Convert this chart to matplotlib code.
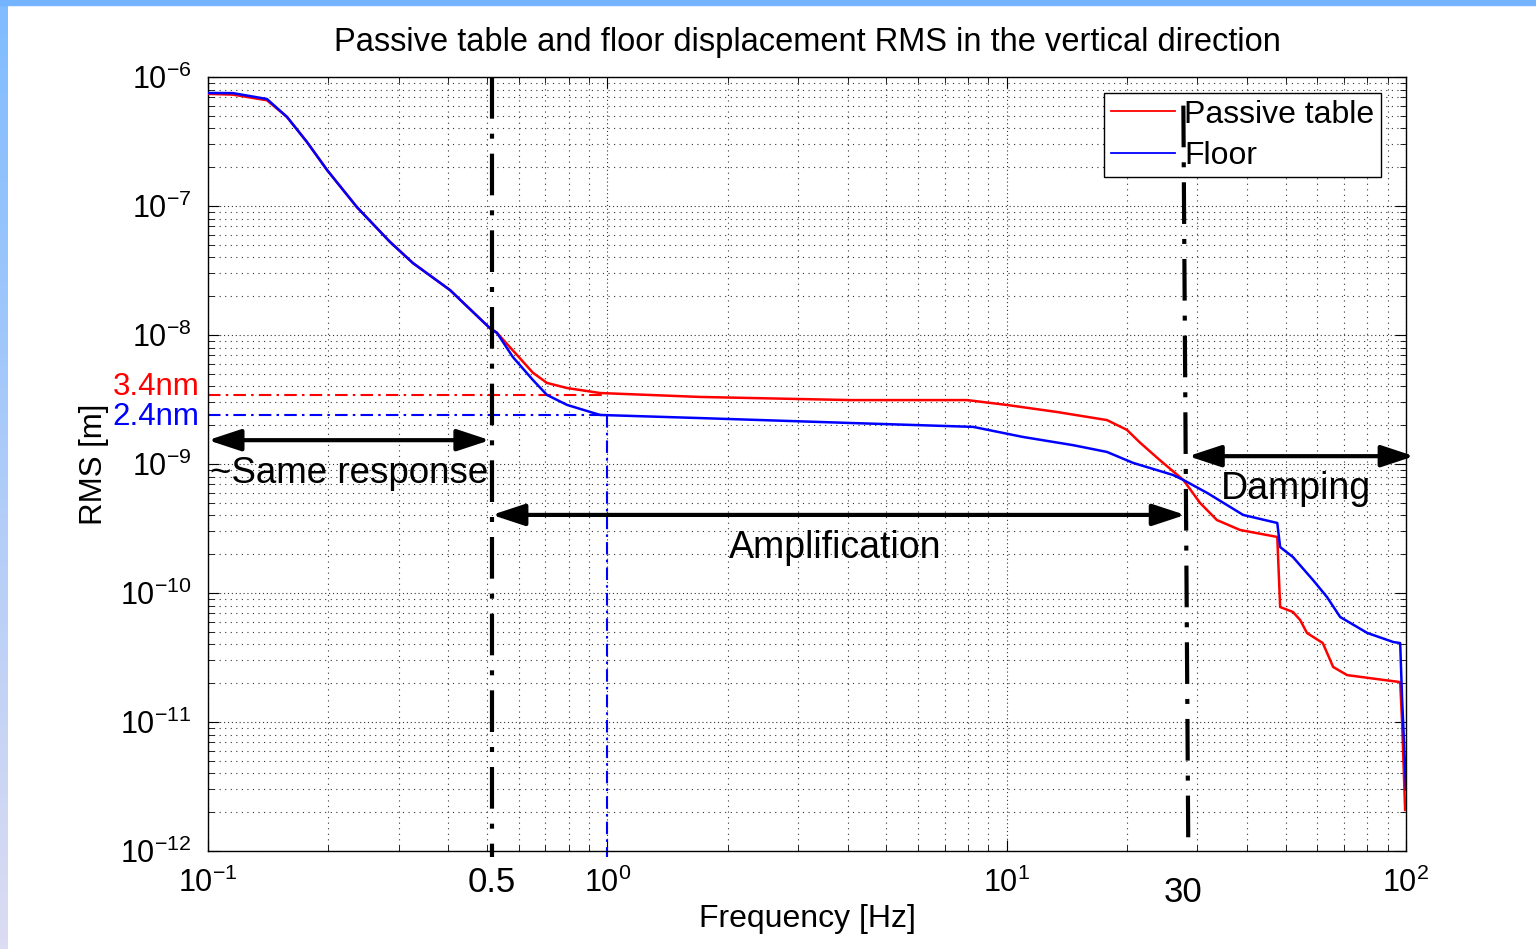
import numpy as np
import matplotlib
matplotlib.use("Agg")
import matplotlib.pyplot as plt
from matplotlib.patches import Rectangle
from matplotlib.colors import LinearSegmentedColormap

plt.rcParams['font.family'] = ['Liberation Sans', 'DejaVu Sans']
plt.rcParams['mathtext.fontset'] = 'custom'
plt.rcParams['mathtext.rm'] = 'Liberation Sans'

# floor (blue) cumulative RMS
floor_f = [0.1, 0.1155, 0.1405, 0.1577, 0.177, 0.1987, 0.236, 0.2857, 0.326,
           0.4037, 0.508, 0.529, 0.580, 0.651, 0.706, 0.793, 0.959, 1.707,
           4.05, 8.24, 10.99, 14.66, 17.83, 20.73, 26.1, 27.7, 31.8, 39.1,
           47.6, 48.4, 52.1, 58.5, 63.4, 68.4, 80.0, 92.9, 96.7, 97.8, 99.5, 100]
floor_v = [7.52e-7, 7.5e-7, 6.75e-7, 4.9e-7, 3.13e-7, 1.9e-7, 9.8e-8, 5.26e-8, 3.61e-8,
           2.23e-8, 1.13e-8, 1.04e-8, 6.75e-9, 4.48e-9, 3.43e-9, 2.87e-9, 2.40e-9, 2.27e-9,
           2.08e-9, 1.94e-9, 1.62e-9, 1.40e-9, 1.24e-9, 1.02e-9, 8.22e-10, 7.52e-10, 5.96e-10, 4.03e-10,
           3.49e-10, 2.27e-10, 1.90e-10, 1.26e-10, 9.31e-11, 6.52e-11, 4.90e-11, 4.17e-11, 4.09e-11,
           1.48e-11, 4.48e-12, 3.0e-12]

# passive table (red)
table_f = [0.1, 0.1155, 0.1405, 0.1577, 0.177, 0.1987, 0.236, 0.2857, 0.326,
           0.4037, 0.508, 0.529, 0.594, 0.651, 0.706, 0.793, 0.959, 1.707, 4.05, 7.96,
           10.0, 13.37, 17.83, 20.0, 21.6, 24.2, 27.7, 30.5, 33.6, 38.4, 47.6,
           48.4, 52.1, 54.3, 56.5, 61.9, 65.7, 71.2, 87.7, 96.7, 97.8, 99.5]
table_v = [7.4e-7, 7.3e-7, 6.6e-7, 4.9e-7, 3.13e-7, 1.9e-7, 9.8e-8, 5.26e-8, 3.61e-8,
           2.23e-8, 1.13e-8, 1.04e-8, 7.0e-9, 5.1e-9, 4.25e-9, 3.88e-9, 3.55e-9, 3.31e-9, 3.13e-9, 3.13e-9,
           2.87e-9, 2.53e-9, 2.19e-9, 1.84e-9, 1.46e-9, 1.07e-9, 7.52e-10, 4.99e-10, 3.68e-10, 3.08e-10, 2.72e-10,
           7.78e-11, 7.13e-11, 6.18e-11, 4.90e-11, 4.09e-11, 2.67e-11, 2.31e-11, 2.12e-11, 2.04e-11,
           9.8e-12, 2.08e-12]

table_rms = 3.4e-9
floor_rms = 2.4e-9
f_low = 0.514
f_high = 27.7
f_high_bottom = 28.5

xticks = [0.1, 1, 10, 100]
xtick_labels = [r'$\mathregular{10^{-1}}$', r'$\mathregular{10^{0}}$',
                r'$\mathregular{10^{1}}$', r'$\mathregular{10^{2}}$']
yticks = [1e-12, 1e-11, 1e-10, 1e-9, 1e-8, 1e-7, 1e-6]
ytick_labels = [r'$\mathregular{10^{%d}}$' % e for e in range(-12, -5)]

fig = plt.figure(figsize=(15.36, 9.49), dpi=100)

# slide frame
fig.patches.append(Rectangle((0, 1 - 5 / 949), 1, 5 / 949, transform=fig.transFigure,
                             color='#74b3ff', zorder=0))
bg = fig.add_axes([0, 0, 8 / 1536, 1 - 5 / 949])
grad = np.linspace(0, 1, 256)[:, None]
cm = LinearSegmentedColormap.from_list('frame', ['#dcdcf2', '#80bcff'])
bg.imshow(grad, aspect='auto', cmap=cm, origin='lower')
bg.axis('off')

ax = fig.add_axes([208 / 1536, 1 - 851 / 949, 1198 / 1536, 774 / 949])
ax.set_xscale('log')
ax.set_yscale('log')
ax.set_xlim(0.1, 100)
ax.set_ylim(1e-12, 1e-6)

ax.plot(table_f, table_v, color='#ff0000', lw=1.8, label='Passive table', zorder=3)
ax.plot(floor_f, floor_v, color='#0000ff', lw=1.8, label='Floor', zorder=3)

ax.grid(True, which='major', color='#333333', lw=0.8, linestyle=(0, (1, 2.5)))
ax.grid(True, which='minor', color='#333333', lw=0.8, linestyle=(0, (1, 4)))
ax.set_xticks(xticks)
ax.set_xticklabels(xtick_labels)
ax.set_yticks(yticks)
ax.set_yticklabels(ytick_labels)
ax.tick_params(which='both', direction='in', top=True, right=True, labelsize=22)
ax.tick_params(axis='x', which='major', pad=12)
ax.tick_params(axis='y', which='major', pad=12)
ax.tick_params(which='major', length=8)
ax.tick_params(which='minor', length=4)
for s in ax.spines.values():
    s.set_linewidth(1.0)

# RMS reference lines
dd = (0, (6, 2.5, 1.2, 2.5))
ax.plot([0.1, 1.0], [table_rms, table_rms], color='#ff0000', lw=1.5, linestyle=dd, zorder=2)
ax.plot([0.1, 1.0], [floor_rms, floor_rms], color='#0000ff', lw=1.5, linestyle=dd, zorder=2)
ax.plot([1.0, 1.0], [floor_rms, 9e-13], color='#0000ff', lw=1.5, linestyle=dd, zorder=2,
        clip_on=False)
ax.text(-0.007, 3.95e-9, '3.4nm', color='#ff0000', fontsize=22.5, ha='right', va='center',
        transform=ax.get_yaxis_transform())
ax.text(-0.007, 2.3e-9, '2.4nm', color='#0000ff', fontsize=22.5, ha='right', va='center',
        transform=ax.get_yaxis_transform())

# region boundaries
bd = (0, (10, 3.6, 1.2, 3.6))
ax.plot([f_low, f_low], [1e-6, 9e-13], color='k', lw=3, linestyle=bd, zorder=4, clip_on=False)
ax.plot([f_high, f_high_bottom], [6e-7, 1e-12], color='k', lw=3, linestyle=bd, zorder=6,
        clip_on=False)

arrow = dict(arrowstyle='<|-|>,head_length=1.0,head_width=0.33', lw=3, color='k',
             mutation_scale=20, shrinkA=0, shrinkB=0)
ax.annotate('', xy=(0.1, 1.53e-9), xytext=(0.508, 1.53e-9), arrowprops=arrow,
            annotation_clip=False)
ax.annotate('', xy=(f_low, 4.03e-10), xytext=(28.0, 4.03e-10), arrowprops=arrow,
            annotation_clip=False)
ax.annotate('', xy=(28.5, 1.15e-9), xytext=(104.8, 1.15e-9), arrowprops=arrow,
            annotation_clip=False)

ax.text(0.1012, 8.5e-10, '~Same response', fontsize=26.5, ha='left', va='center')
ax.text(3.72, 2.23e-10, 'Amplification', fontsize=27, ha='center', va='center')
ax.text(53.1, 6.4e-10, 'Damping', fontsize=27, ha='center', va='center')

ax.text(f_low, -0.041, '0.5', fontsize=25, ha='center', va='center',
        transform=ax.get_xaxis_transform())
ax.text(f_high, -0.054, '30', fontsize=25, ha='center', va='center',
        transform=ax.get_xaxis_transform())

leg = ax.legend(loc='upper right', bbox_to_anchor=(0.979, 0.979), borderaxespad=0,
                fontsize=23, fancybox=False, edgecolor='k', framealpha=1,
                handlelength=2.0, handletextpad=0.3, borderpad=0.2, labelspacing=0.35)
leg.get_frame().set_linewidth(1.0)
for h in leg.get_lines():
    h.set_linewidth(1.3)
leg.set_zorder(5)

ax.set_xlabel('Frequency [Hz]', fontsize=23)
ax.xaxis.set_label_coords(0.5, -0.068)
ax.set_ylabel('RMS [m]', fontsize=22.5)
ax.yaxis.set_label_coords(-0.083, 0.5)
fig.text(807 / 1536, 1 - 42 / 949, 'Passive table and floor displacement RMS in the vertical direction',
         fontsize=23.5, ha='center', va='center')

fig.savefig('out.png', dpi=100)
